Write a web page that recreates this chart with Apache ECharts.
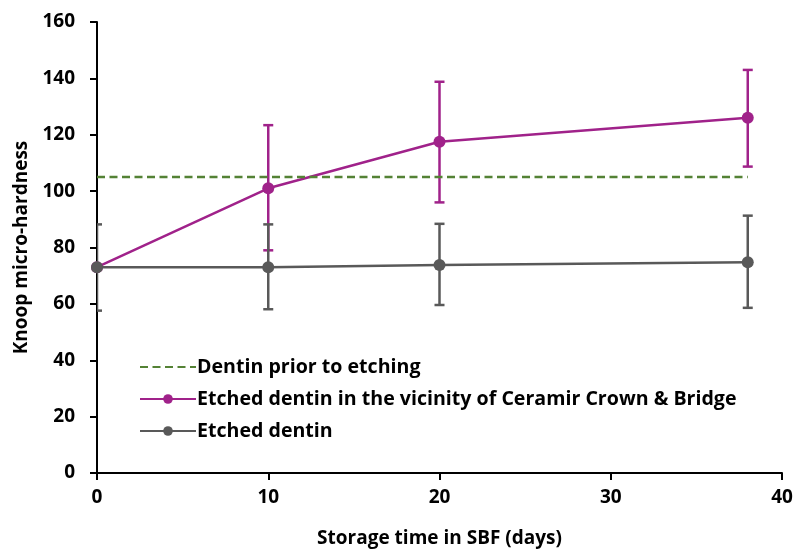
<!DOCTYPE html>
<html>
<head>
<meta charset="utf-8">
<script src="https://cdn.jsdelivr.net/npm/echarts@6/dist/echarts.min.js"></script>
<style>html,body{margin:0;padding:0;background:#fff}#c{width:794px;height:550px}</style>
</head>
<body>
<div id="c"></div>
<script>
var days = [0, 10, 20, 38];
var crownMean = [73, 101, 117.5, 126];
var crownLow = [null, 79, 96, 108.7];
var crownHigh = [null, 123.4, 138.8, 143];
var etchedMean = [73, 73, 73.8, 74.8];
var etchedLow = [57.6, 58.1, 59.6, 58.6];
var etchedHigh = [88.2, 88.2, 88.4, 91.3];
var baselineX = [0, 38];
var baselineY = [105, 105];
var yTicks = [0, 20, 40, 60, 80, 100, 120, 140, 160];
var xTicks = [0, 10, 20, 30, 40];

var names = ['Dentin prior to etching', 'Etched dentin in the vicinity of Ceramir Crown & Bridge', 'Etched dentin'];
var cPurple = '#A0228A', cGray = '#595959', cGreen = '#548235';
var font = 'Open Sans';

function pairs(xs, ys) { return xs.map(function (x, i) { return [x, ys[i]]; }); }
function errData(lo, hi) {
  var out = [];
  days.forEach(function (d, i) { if (lo[i] != null) out.push([d, lo[i], hi[i]]); });
  return out;
}
function errRender(color) {
  return function (params, api) {
    var x = api.value(0);
    var p1 = api.coord([x, api.value(1)]);
    var p2 = api.coord([x, api.value(2)]);
    var w = 5;
    var st = { stroke: color, lineWidth: 2.5 };
    return {
      type: 'group',
      children: [
        { type: 'line', shape: { x1: p1[0], y1: p1[1], x2: p2[0], y2: p2[1] }, style: st },
        { type: 'line', shape: { x1: p1[0] - w, y1: p1[1], x2: p1[0] + w, y2: p1[1] }, style: st },
        { type: 'line', shape: { x1: p2[0] - w, y1: p2[1], x2: p2[0] + w, y2: p2[1] }, style: st }
      ]
    };
  };
}

var chart = echarts.init(document.getElementById('c'), null, { renderer: 'canvas' });
chart.setOption({
  animation: false,
  backgroundColor: '#fff',
  textStyle: { fontFamily: font },
  grid: { left: 97, right: 12, top: 22, bottom: 77, containLabel: false, outerBoundsMode: 'none' },
  legend: {
    orient: 'vertical', left: 139, top: 357, padding: 0,
    itemWidth: 56, itemHeight: 12, itemGap: 12,
    data: [
      { name: names[0], itemStyle: { opacity: 0 } },
      { name: names[1] },
      { name: names[2] }
    ],
    textStyle: { fontFamily: font, fontWeight: 'bold', fontSize: 19.6, lineHeight: 20, color: '#000', padding: [0, 0, 0, -4] }
  },
  xAxis: {
    type: 'value', min: xTicks[0], max: xTicks[xTicks.length - 1], interval: 10,
    name: 'Storage time in SBF (days)', nameLocation: 'middle', nameGap: 56,
    nameTextStyle: { fontFamily: font, fontWeight: 'bold', fontSize: 19, color: '#000', verticalAlign: 'top' },
    axisLine: { show: true, lineStyle: { color: '#000', width: 2 } },
    axisTick: { show: true, length: 7, lineStyle: { color: '#000', width: 2 } },
    axisLabel: { fontFamily: font, fontWeight: 'bold', fontSize: 19, color: '#000', margin: 15 },
    splitLine: { show: false }
  },
  yAxis: {
    type: 'value', min: yTicks[0], max: yTicks[yTicks.length - 1], interval: 20,
    name: 'Knoop micro-hardness', nameLocation: 'middle', nameGap: 66,
    nameTextStyle: { fontFamily: font, fontWeight: 'bold', fontSize: 19, color: '#000' },
    axisLine: { show: true, lineStyle: { color: '#000', width: 2 } },
    axisTick: { show: true, length: 7, lineStyle: { color: '#000', width: 2 } },
    axisLabel: { fontFamily: font, fontWeight: 'bold', fontSize: 19, color: '#000', margin: 22 },
    splitLine: { show: false }
  },
  series: [
    {
      name: names[1], type: 'line', data: pairs(days, crownMean), z: 3,
      symbol: 'circle', symbolSize: 12, showSymbol: true,
      lineStyle: { color: cPurple, width: 2.5 }, itemStyle: { color: cPurple }
    },
    {
      name: names[1] + ' err', type: 'custom', data: errData(crownLow, crownHigh), z: 3,
      renderItem: errRender(cPurple), clip: true, encode: { x: 0, y: [1, 2] }
    },
    {
      name: names[0], type: 'line', data: pairs(baselineX, baselineY), z: 4,
      symbol: 'none', showSymbol: false,
      lineStyle: { color: cGreen, width: 2.5, type: [8, 4.5] }, itemStyle: { color: cGreen }
    },
    {
      name: names[2] + ' err', type: 'custom', data: errData(etchedLow, etchedHigh), z: 5,
      renderItem: errRender(cGray), clip: true, encode: { x: 0, y: [1, 2] }
    },
    {
      name: names[2], type: 'line', data: pairs(days, etchedMean), z: 5,
      symbol: 'circle', symbolSize: 12, showSymbol: true,
      lineStyle: { color: cGray, width: 2.5 }, itemStyle: { color: cGray }
    }
  ]
});
</script>
</body>
</html>
